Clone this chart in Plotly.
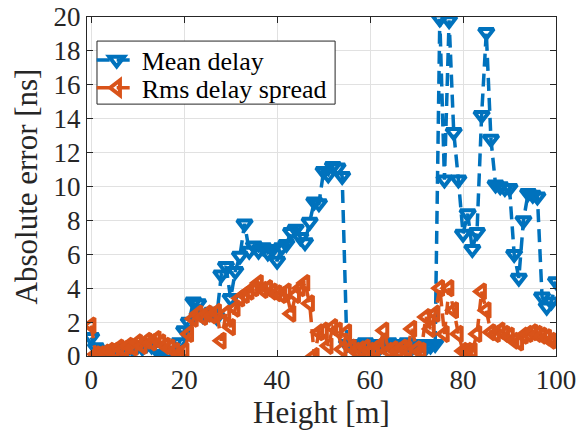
import plotly.graph_objects as go

height = list(range(0, 101))

mean_delay = [
    1.1, 0.5, 0.3, 0.3, 0.2, 0.3, 0.4, 0.3, 0.5, 0.4,
    0.6, 0.5, 0.7, 0.6, 0.4, 0.1, 0.05, 0.1, 0.3, 0.8,
    1.5, 2.0, 3.2, 3.1, 2.4, 2.5, 2.6, 2.3, 4.8, 5.3,
    3.4, 5.0, 5.9, 7.8, 6.2, 6.5, 6.2, 6.4, 6.1, 6.3,
    5.6, 6.4, 6.6, 7.3, 7.5, 7.0, 6.7, 7.9, 9.1, 9.0,
    10.9, 10.7, 11.2, 11.1, 10.6, 0.7, 0.6, 0.7, 0.5, 0.8,
    0.6, 0.7, 0.5, 0.6, 0.8, 0.5, 0.7, 0.6, 0.8, 0.5,
    0.6, 0.7, 0.5, 0.6, 0.7, 19.9, 10.4, 19.8, 13.2, 10.4,
    7.2, 8.4, 6.3, 7.3, 14.2, 19.1, 12.8, 10.1, 10.0, 9.9,
    9.9, 6.0, 4.6, 8.0, 9.6, 9.5, 9.4, 3.5, 2.9, 3.2,
    4.4,
]

rms_spread = [
    1.8, 0.1, 0.1, 0.2, 0.3, 0.3, 0.5, 0.4, 0.6, 0.5,
    0.8, 0.6, 0.9, 0.8, 1.0, 0.8, 0.6, 0.5, 0.3, 0.1,
    0.3, 1.3, 2.2, 2.5, 2.3, 2.5, 2.4, 2.6, 0.9, 2.5,
    1.7, 2.8, 3.4, 3.6, 3.8, 4.0, 4.3, 3.9, 4.0, 3.8,
    3.7, 3.6, 3.8, 2.5, 3.6, 4.0, 4.3, 3.1, 0.0, 1.4,
    1.5, 0.6, 1.7, 1.5, 0.4, 1.4, 0.5, 0.3, 0.4, 0.5,
    0.3, 0.4, 0.6, 1.5, 0.3, 0.4, 0.3, 0.5, 0.4, 1.6,
    0.4, 0.3, 2.3, 1.6, 2.5, 4.0, 1.3, 4.0, 2.7, 1.3,
    0.3, 0.3, 0.3, 1.3, 3.8, 2.7, 1.4, 1.3, 1.5, 1.3,
    1.2, 0.9, 0.8, 1.2, 1.3, 1.4, 1.3, 1.2, 1.1, 0.9,
    0.9,
]

x_ticks = [0, 20, 40, 60, 80, 100]
y_ticks = list(range(0, 21, 2))

BLUE = "#0072BD"
ORANGE = "#D95319"
AX = "#262626"
FONT = "Liberation Serif"

fig = go.Figure()
fig.add_trace(go.Scatter(
    x=height, y=mean_delay, name="Mean delay", mode="lines+markers",
    line=dict(color=BLUE, width=3.5, dash="13px,7px"),
    marker=dict(symbol="triangle-down-open", size=13, color=BLUE,
                line=dict(color=BLUE, width=4)),
    legend="legend",
))
fig.add_trace(go.Scatter(
    x=height, y=rms_spread, name="Rms delay spread", mode="lines+markers",
    line=dict(color=ORANGE, width=3.5, dash="13px,7px"),
    marker=dict(symbol="triangle-left-open", size=13, color=ORANGE,
                line=dict(color=ORANGE, width=4)),
    legend="legend2",
))

axis_common = dict(
    showline=True, linecolor=AX, linewidth=1, mirror="ticks",
    ticks="inside", ticklen=6, tickcolor=AX, tickwidth=1,
    showgrid=True, gridcolor="#e1e1e1", gridwidth=1, zeroline=False,
    automargin=False,
    tickfont=dict(family=FONT, size=27, color=AX),
    title_font=dict(family=FONT, size=31, color=AX),
)

leg_common = dict(
    xanchor="left", yanchor="middle", bgcolor="rgba(0,0,0,0)", borderwidth=0,
    font=dict(family=FONT, size=26, color="black"), itemwidth=40,
)

fig.update_layout(
    width=585, height=438,
    margin=dict(l=87, r=29, t=17, b=82),
    paper_bgcolor="white", plot_bgcolor="white",
    font=dict(family=FONT, color=AX),
    xaxis=dict(range=[-0.9, 100], tickvals=x_ticks, title=dict(text="Height [m]", standoff=4),
               **axis_common),
    yaxis=dict(range=[0, 20], tickvals=y_ticks, title=dict(text="Absolute error [ns]", standoff=6),
               **axis_common),
    legend=dict(x=0.01, y=0.873, **leg_common),
    legend2=dict(x=0.01, y=0.791, **leg_common),
    shapes=[dict(type="rect", xref="paper", yref="paper",
                 x0=0.0213, x1=0.529, y0=0.743, y1=0.929,
                 fillcolor="white", line=dict(color=AX, width=1), layer="above")],
    showlegend=True,
)

fig.write_html("out.html", config={"displayModeBar": False},
               post_script="document.body.style.margin='0';document.body.style.overflow='hidden';")
